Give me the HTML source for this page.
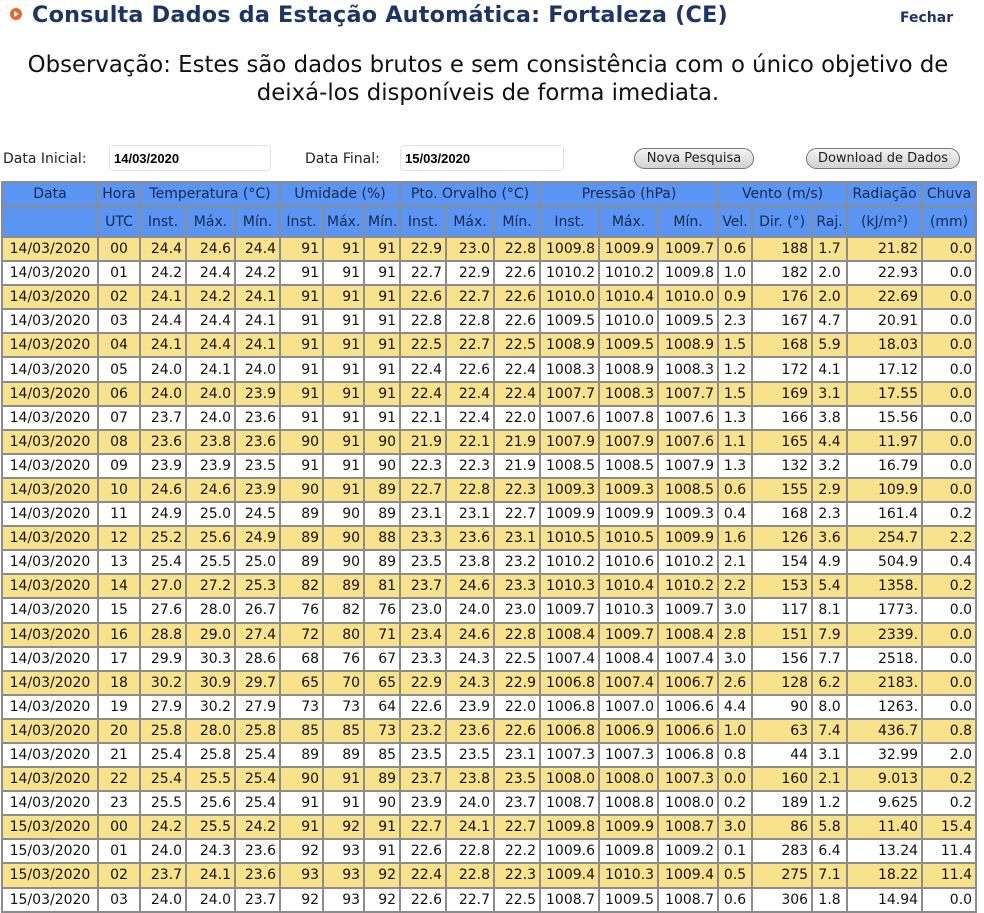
<!DOCTYPE html>
<html><head><meta charset="utf-8">
<style>
html,body{margin:0;padding:0;background:#fff;width:984px;height:913px;overflow:hidden;position:relative;font-family:"DejaVu Sans","Liberation Sans",sans-serif;}
.title{position:absolute;left:10px;top:2px;font-size:22.3px;font-weight:bold;color:#1c3566;white-space:nowrap;letter-spacing:0.2px}
.title .ic{display:inline-block;width:12px;height:12px;border-radius:50%;background:#e8652a;margin-right:10px;vertical-align:2px;position:relative}
.title .ic:after{content:"";position:absolute;left:4px;top:3px;border-left:5px solid #fff;border-top:3px solid transparent;border-bottom:3px solid transparent}
.fechar{position:absolute;left:900px;top:10px;font-size:14px;font-weight:bold;color:#1c3566}
.obs{position:absolute;left:0;width:976px;top:51px;text-align:center;font-size:22.8px;line-height:28px;color:#111}
.lbl{position:absolute;top:151px;font-size:14px;color:#222}
.inp{position:absolute;top:145px;height:26px;border:1px solid #dde3ee;border-radius:4px;background:#fff;font-size:13px;font-weight:bold;line-height:26px;padding-left:4px;box-sizing:border-box;font-family:"Liberation Sans",sans-serif}
.btn{position:absolute;top:148px;height:21px;border:1px solid #777;border-radius:11px;background:linear-gradient(#f4f4f4,#d2d2d2);font-size:13px;line-height:20px;text-align:center;color:#222;box-sizing:border-box}
table{position:absolute;left:1px;top:181px;width:976px;border-collapse:collapse;table-layout:fixed;font-size:14px}
td{border:2px solid #8c8c8c;padding:0 3px;height:22.1px;white-space:nowrap;overflow:hidden;color:#111;text-align:right}
tr.h td{background:#5b95f4;color:#16284f;text-align:center;height:22px}
tr.h2 td{height:29px}
tr.y td{background:#f9e28c}
td.c{text-align:center}
</style></head><body>
<div class="title"><span class="ic"></span>Consulta Dados da Estação Automática: Fortaleza (CE)</div>
<div class="fechar">Fechar</div>
<div class="obs">Observação: Estes são dados brutos e sem consistência com o único objetivo de<br>deixá-los disponíveis de forma imediata.</div>
<div class="lbl" style="left:3px">Data Inicial:</div>
<div class="inp" style="left:109px;width:162px">14/03/2020</div>
<div class="lbl" style="left:305px">Data Final:</div>
<div class="inp" style="left:400px;width:164px">15/03/2020</div>
<div class="btn" style="left:634px;width:120px">Nova Pesquisa</div>
<div class="btn" style="left:806px;width:154px">Download de Dados</div>
<table>
<colgroup><col style="width:96px"><col style="width:42px"><col style="width:46px"><col style="width:49px"><col style="width:45px"><col style="width:43px"><col style="width:41px"><col style="width:36px"><col style="width:46px"><col style="width:48px"><col style="width:46px"><col style="width:59px"><col style="width:59px"><col style="width:60px"><col style="width:34px"><col style="width:60px"><col style="width:35px"><col style="width:75px"><col style="width:54px"></colgroup>
<tr class="h"><td>Data</td><td>Hora</td><td colspan="3">Temperatura (°C)</td><td colspan="3">Umidade (%)</td><td colspan="3">Pto. Orvalho (°C)</td><td colspan="3">Pressão (hPa)</td><td colspan="3">Vento (m/s)</td><td>Radiação</td><td>Chuva</td></tr>
<tr class="h h2"><td></td><td>UTC</td><td>Inst.</td><td>Máx.</td><td>Mín.</td><td>Inst.</td><td>Máx.</td><td>Mín.</td><td>Inst.</td><td>Máx.</td><td>Mín.</td><td>Inst.</td><td>Máx.</td><td>Mín.</td><td>Vel.</td><td>Dir. (°)</td><td>Raj.</td><td>(kJ/m²)</td><td>(mm)</td></tr>
<tr class="y"><td class="c">14/03/2020</td><td class="c">00</td><td>24.4</td><td>24.6</td><td>24.4</td><td>91</td><td>91</td><td>91</td><td>22.9</td><td>23.0</td><td>22.8</td><td>1009.8</td><td>1009.9</td><td>1009.7</td><td class="c">0.6</td><td>188</td><td class="c">1.7</td><td>21.82</td><td>0.0</td></tr>
<tr><td class="c">14/03/2020</td><td class="c">01</td><td>24.2</td><td>24.4</td><td>24.2</td><td>91</td><td>91</td><td>91</td><td>22.7</td><td>22.9</td><td>22.6</td><td>1010.2</td><td>1010.2</td><td>1009.8</td><td class="c">1.0</td><td>182</td><td class="c">2.0</td><td>22.93</td><td>0.0</td></tr>
<tr class="y"><td class="c">14/03/2020</td><td class="c">02</td><td>24.1</td><td>24.2</td><td>24.1</td><td>91</td><td>91</td><td>91</td><td>22.6</td><td>22.7</td><td>22.6</td><td>1010.0</td><td>1010.4</td><td>1010.0</td><td class="c">0.9</td><td>176</td><td class="c">2.0</td><td>22.69</td><td>0.0</td></tr>
<tr><td class="c">14/03/2020</td><td class="c">03</td><td>24.4</td><td>24.4</td><td>24.1</td><td>91</td><td>91</td><td>91</td><td>22.8</td><td>22.8</td><td>22.6</td><td>1009.5</td><td>1010.0</td><td>1009.5</td><td class="c">2.3</td><td>167</td><td class="c">4.7</td><td>20.91</td><td>0.0</td></tr>
<tr class="y"><td class="c">14/03/2020</td><td class="c">04</td><td>24.1</td><td>24.4</td><td>24.1</td><td>91</td><td>91</td><td>91</td><td>22.5</td><td>22.7</td><td>22.5</td><td>1008.9</td><td>1009.5</td><td>1008.9</td><td class="c">1.5</td><td>168</td><td class="c">5.9</td><td>18.03</td><td>0.0</td></tr>
<tr><td class="c">14/03/2020</td><td class="c">05</td><td>24.0</td><td>24.1</td><td>24.0</td><td>91</td><td>91</td><td>91</td><td>22.4</td><td>22.6</td><td>22.4</td><td>1008.3</td><td>1008.9</td><td>1008.3</td><td class="c">1.2</td><td>172</td><td class="c">4.1</td><td>17.12</td><td>0.0</td></tr>
<tr class="y"><td class="c">14/03/2020</td><td class="c">06</td><td>24.0</td><td>24.0</td><td>23.9</td><td>91</td><td>91</td><td>91</td><td>22.4</td><td>22.4</td><td>22.4</td><td>1007.7</td><td>1008.3</td><td>1007.7</td><td class="c">1.5</td><td>169</td><td class="c">3.1</td><td>17.55</td><td>0.0</td></tr>
<tr><td class="c">14/03/2020</td><td class="c">07</td><td>23.7</td><td>24.0</td><td>23.6</td><td>91</td><td>91</td><td>91</td><td>22.1</td><td>22.4</td><td>22.0</td><td>1007.6</td><td>1007.8</td><td>1007.6</td><td class="c">1.3</td><td>166</td><td class="c">3.8</td><td>15.56</td><td>0.0</td></tr>
<tr class="y"><td class="c">14/03/2020</td><td class="c">08</td><td>23.6</td><td>23.8</td><td>23.6</td><td>90</td><td>91</td><td>90</td><td>21.9</td><td>22.1</td><td>21.9</td><td>1007.9</td><td>1007.9</td><td>1007.6</td><td class="c">1.1</td><td>165</td><td class="c">4.4</td><td>11.97</td><td>0.0</td></tr>
<tr><td class="c">14/03/2020</td><td class="c">09</td><td>23.9</td><td>23.9</td><td>23.5</td><td>91</td><td>91</td><td>90</td><td>22.3</td><td>22.3</td><td>21.9</td><td>1008.5</td><td>1008.5</td><td>1007.9</td><td class="c">1.3</td><td>132</td><td class="c">3.2</td><td>16.79</td><td>0.0</td></tr>
<tr class="y"><td class="c">14/03/2020</td><td class="c">10</td><td>24.6</td><td>24.6</td><td>23.9</td><td>90</td><td>91</td><td>89</td><td>22.7</td><td>22.8</td><td>22.3</td><td>1009.3</td><td>1009.3</td><td>1008.5</td><td class="c">0.6</td><td>155</td><td class="c">2.9</td><td>109.9</td><td>0.0</td></tr>
<tr><td class="c">14/03/2020</td><td class="c">11</td><td>24.9</td><td>25.0</td><td>24.5</td><td>89</td><td>90</td><td>89</td><td>23.1</td><td>23.1</td><td>22.7</td><td>1009.9</td><td>1009.9</td><td>1009.3</td><td class="c">0.4</td><td>168</td><td class="c">2.3</td><td>161.4</td><td>0.2</td></tr>
<tr class="y"><td class="c">14/03/2020</td><td class="c">12</td><td>25.2</td><td>25.6</td><td>24.9</td><td>89</td><td>90</td><td>88</td><td>23.3</td><td>23.6</td><td>23.1</td><td>1010.5</td><td>1010.5</td><td>1009.9</td><td class="c">1.6</td><td>126</td><td class="c">3.6</td><td>254.7</td><td>2.2</td></tr>
<tr><td class="c">14/03/2020</td><td class="c">13</td><td>25.4</td><td>25.5</td><td>25.0</td><td>89</td><td>90</td><td>89</td><td>23.5</td><td>23.8</td><td>23.2</td><td>1010.2</td><td>1010.6</td><td>1010.2</td><td class="c">2.1</td><td>154</td><td class="c">4.9</td><td>504.9</td><td>0.4</td></tr>
<tr class="y"><td class="c">14/03/2020</td><td class="c">14</td><td>27.0</td><td>27.2</td><td>25.3</td><td>82</td><td>89</td><td>81</td><td>23.7</td><td>24.6</td><td>23.3</td><td>1010.3</td><td>1010.4</td><td>1010.2</td><td class="c">2.2</td><td>153</td><td class="c">5.4</td><td>1358.</td><td>0.2</td></tr>
<tr><td class="c">14/03/2020</td><td class="c">15</td><td>27.6</td><td>28.0</td><td>26.7</td><td>76</td><td>82</td><td>76</td><td>23.0</td><td>24.0</td><td>23.0</td><td>1009.7</td><td>1010.3</td><td>1009.7</td><td class="c">3.0</td><td>117</td><td class="c">8.1</td><td>1773.</td><td>0.0</td></tr>
<tr class="y"><td class="c">14/03/2020</td><td class="c">16</td><td>28.8</td><td>29.0</td><td>27.4</td><td>72</td><td>80</td><td>71</td><td>23.4</td><td>24.6</td><td>22.8</td><td>1008.4</td><td>1009.7</td><td>1008.4</td><td class="c">2.8</td><td>151</td><td class="c">7.9</td><td>2339.</td><td>0.0</td></tr>
<tr><td class="c">14/03/2020</td><td class="c">17</td><td>29.9</td><td>30.3</td><td>28.6</td><td>68</td><td>76</td><td>67</td><td>23.3</td><td>24.3</td><td>22.5</td><td>1007.4</td><td>1008.4</td><td>1007.4</td><td class="c">3.0</td><td>156</td><td class="c">7.7</td><td>2518.</td><td>0.0</td></tr>
<tr class="y"><td class="c">14/03/2020</td><td class="c">18</td><td>30.2</td><td>30.9</td><td>29.7</td><td>65</td><td>70</td><td>65</td><td>22.9</td><td>24.3</td><td>22.9</td><td>1006.8</td><td>1007.4</td><td>1006.7</td><td class="c">2.6</td><td>128</td><td class="c">6.2</td><td>2183.</td><td>0.0</td></tr>
<tr><td class="c">14/03/2020</td><td class="c">19</td><td>27.9</td><td>30.2</td><td>27.9</td><td>73</td><td>73</td><td>64</td><td>22.6</td><td>23.9</td><td>22.0</td><td>1006.8</td><td>1007.0</td><td>1006.6</td><td class="c">4.4</td><td>90</td><td class="c">8.0</td><td>1263.</td><td>0.0</td></tr>
<tr class="y"><td class="c">14/03/2020</td><td class="c">20</td><td>25.8</td><td>28.0</td><td>25.8</td><td>85</td><td>85</td><td>73</td><td>23.2</td><td>23.6</td><td>22.6</td><td>1006.8</td><td>1006.9</td><td>1006.6</td><td class="c">1.0</td><td>63</td><td class="c">7.4</td><td>436.7</td><td>0.8</td></tr>
<tr><td class="c">14/03/2020</td><td class="c">21</td><td>25.4</td><td>25.8</td><td>25.4</td><td>89</td><td>89</td><td>85</td><td>23.5</td><td>23.5</td><td>23.1</td><td>1007.3</td><td>1007.3</td><td>1006.8</td><td class="c">0.8</td><td>44</td><td class="c">3.1</td><td>32.99</td><td>2.0</td></tr>
<tr class="y"><td class="c">14/03/2020</td><td class="c">22</td><td>25.4</td><td>25.5</td><td>25.4</td><td>90</td><td>91</td><td>89</td><td>23.7</td><td>23.8</td><td>23.5</td><td>1008.0</td><td>1008.0</td><td>1007.3</td><td class="c">0.0</td><td>160</td><td class="c">2.1</td><td>9.013</td><td>0.2</td></tr>
<tr><td class="c">14/03/2020</td><td class="c">23</td><td>25.5</td><td>25.6</td><td>25.4</td><td>91</td><td>91</td><td>90</td><td>23.9</td><td>24.0</td><td>23.7</td><td>1008.7</td><td>1008.8</td><td>1008.0</td><td class="c">0.2</td><td>189</td><td class="c">1.2</td><td>9.625</td><td>0.2</td></tr>
<tr class="y"><td class="c">15/03/2020</td><td class="c">00</td><td>24.2</td><td>25.5</td><td>24.2</td><td>91</td><td>92</td><td>91</td><td>22.7</td><td>24.1</td><td>22.7</td><td>1009.8</td><td>1009.9</td><td>1008.7</td><td class="c">3.0</td><td>86</td><td class="c">5.8</td><td>11.40</td><td>15.4</td></tr>
<tr><td class="c">15/03/2020</td><td class="c">01</td><td>24.0</td><td>24.3</td><td>23.6</td><td>92</td><td>93</td><td>91</td><td>22.6</td><td>22.8</td><td>22.2</td><td>1009.6</td><td>1009.8</td><td>1009.2</td><td class="c">0.1</td><td>283</td><td class="c">6.4</td><td>13.24</td><td>11.4</td></tr>
<tr class="y"><td class="c">15/03/2020</td><td class="c">02</td><td>23.7</td><td>24.1</td><td>23.6</td><td>93</td><td>93</td><td>92</td><td>22.4</td><td>22.8</td><td>22.3</td><td>1009.4</td><td>1010.3</td><td>1009.4</td><td class="c">0.5</td><td>275</td><td class="c">7.1</td><td>18.22</td><td>11.4</td></tr>
<tr><td class="c">15/03/2020</td><td class="c">03</td><td>24.0</td><td>24.0</td><td>23.7</td><td>92</td><td>93</td><td>92</td><td>22.6</td><td>22.7</td><td>22.5</td><td>1008.7</td><td>1009.5</td><td>1008.7</td><td class="c">0.6</td><td>306</td><td class="c">1.8</td><td>14.94</td><td>0.0</td></tr>
</table>
</body></html>
